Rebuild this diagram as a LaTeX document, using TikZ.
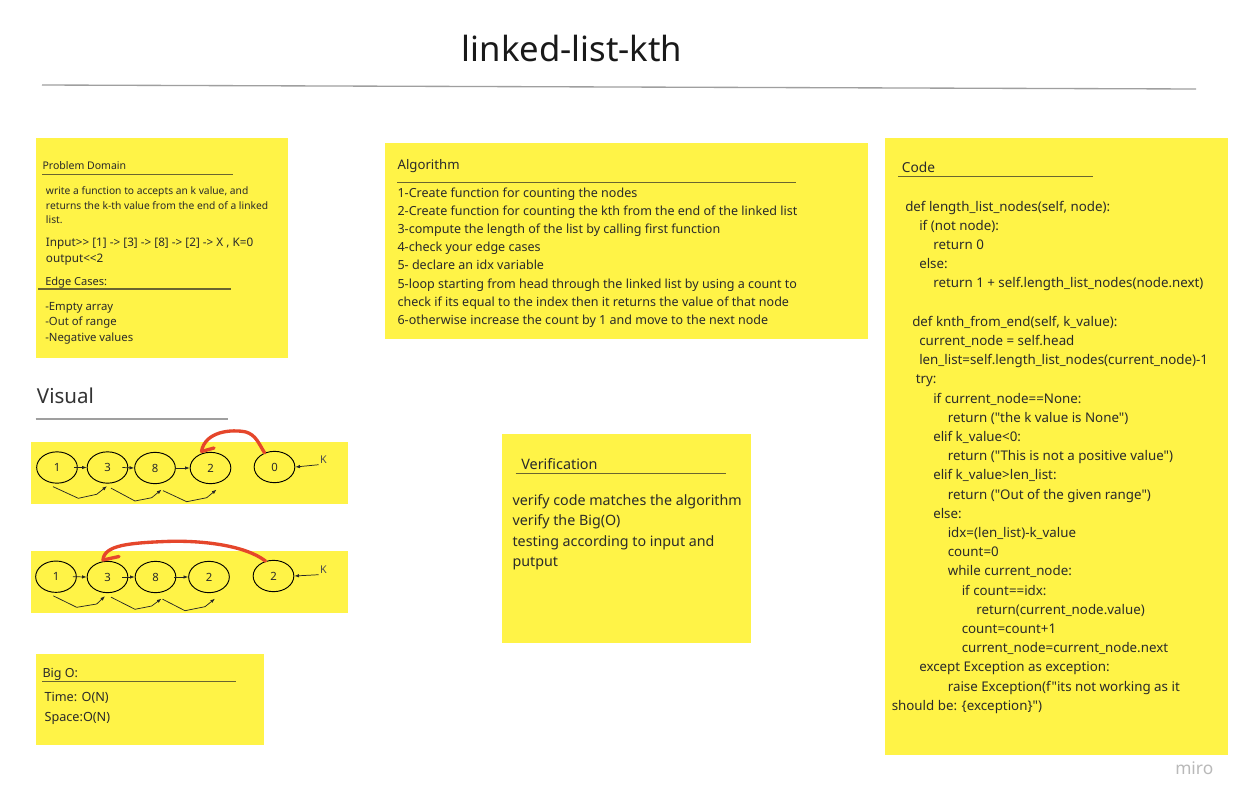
\documentclass[tikz,border=0pt]{standalone}
\usepackage{fontspec}
\setmainfont{Noto Sans}[Ligatures=TeXOff]
\usetikzlibrary{arrows.meta,calc,shapes.geometric}
\definecolor{sticky}{HTML}{FFF347}
\definecolor{ink}{HTML}{2A2A2A}
\definecolor{rulecol}{HTML}{6A6530}
\definecolor{redink}{HTML}{E5462B}
\newcommand\fsz[1]{\fontsize{#1pt}{#1pt}\selectfont}
\begin{document}
\begin{tikzpicture}[x=0.75pt,y=-0.75pt,
  txt/.style={anchor=base west, inner sep=0pt, text=ink},
  codetxt/.style={txt, font=\fsz{10}},
  algtxt/.style={txt, font=\fsz{9.4}},
  note/.style={fill=sticky},
  uline/.style={draw=rulecol, line width=0.8pt},
  lnode/.style={ellipse, draw=black, line width=0.7pt, minimum width=30.5pt, minimum height=23.5pt, inner sep=0pt, font=\fsz{8.5}, text=ink},
  ptr/.style={draw=black!85, line width=0.55pt, -{Latex[length=3.5pt,width=2.6pt]}},
  redarc/.style={draw=redink, line width=2.5pt, line cap=round, line join=round}]
\fill[white] (0,0) rectangle (1243,804);
\useasboundingbox (0,0) rectangle (1243,804);

% title
\node[anchor=base, inner sep=0pt, font=\fsz{26}, text=black!90] (title) at (572,61) {linked-list-kth};
\draw[gray!75, line width=1pt] (42,85) -- (1196,89);

% ---------- Problem Domain ----------
\path[note] (36,138.3) rectangle (288.3,357.7);
\node[txt, font=\fsz{7.9}] (pdh) at (42.3,169.7) {Problem Domain};
\draw[uline] (42.3,174.3) -- (233.3,174.3);
\node[txt, font=\fsz{7.7}] (pd1) at (45.7,194.3) {write a function to accepts an k value, and};
\node[txt, font=\fsz{7.7}] (pd2) at (45.7,209) {returns the k-th value from the end of a linked};
\node[txt, font=\fsz{7.7}] (pd3) at (45.7,223.3) {list.};
\node[txt, font=\fsz{8.8}] (pd4) at (45.7,246.7) {Input>> [1] -> [3] -> [8] -> [2] -> X , K=0};
\node[txt, font=\fsz{8.8}] (pd5) at (45.7,262.8) {output<<2};
\node[txt, font=\fsz{8.3}] (ech) at (45,285.7) {Edge Cases:};
\draw[uline] (38.3,289) -- (230.7,289);
\node[txt, font=\fsz{8.5}] (ec1) at (45,310) {-Empty array};
\node[txt, font=\fsz{8.5}] (ec2) at (45,325.5) {-Out of range};
\node[txt, font=\fsz{8.5}] (ec3) at (45,341.7) {-Negative values};

% ---------- Visual ----------
\node[txt, font=\fsz{15.4}, text=black!80] (vis) at (36.7,403.3) {Visual};
\draw[gray!75, line width=0.9pt] (35.7,419) -- (228.3,419);

% strip 1
\path[note] (31,441.7) rectangle (347.7,504);
\node[lnode] (a1) at (57,467.5) {1};
\node[lnode] (a2) at (107.5,467.5) {3};
\node[lnode] (a3) at (155,468) {8};
\node[lnode] (a4) at (210.5,468) {2};
\node[lnode] (a5) at (274.5,467) {0};
\node[inner sep=1pt, font=\fsz{8}, text=black!70] (ka) at (323.5,459.3) {K};
\draw[ptr] ($(a1.east)+(-4,0)$) -- (a2.west);
\draw[ptr] ($(a2.east)+(-6,0)$) -- (a3.west);
\draw[ptr] ($(a3.east)+(0,0)$) -- (a4.west);
\draw[ptr] (ka.south west) -- (a5.east);
\draw[ptr] ($(a1.south)+(-4,3)$) -- (78.3,498.3) -- (96.7,494.3) -- ($(a2.south)+(-0.5,2.5)$);
\draw[ptr] ($(a2.south)+(3.5,4.5)$) -- (135,501) -- (151.7,497.7) -- ($(a3.south)+(6.5,5.5)$);
\draw[ptr] ($(a3.south)+(8,6.5)$) -- (186.7,501.7) -- (206.7,497.7) -- ($(a4.south)+(6,5.5)$);
\coordinate (tipa) at (201.5,451.5);
\draw[redarc] (a5.125) .. controls (259,444) and (256,435) .. (246,432)
  .. controls (232,429) and (205,431) .. (tipa);
\draw[redarc] (tipa) -- (214,448);

% strip 2
\path[note] (31,550.7) rectangle (347.7,612.7);
\node[lnode] (b1) at (56,576.7) {1};
\node[lnode] (b2) at (107.5,577) {3};
\node[lnode] (b3) at (155.5,577) {8};
\node[lnode] (b4) at (209,577) {2};
\node[lnode] (b5) at (273.5,576) {2};
\node[inner sep=1pt, font=\fsz{8}, text=black!70] (kb) at (323.5,569.3) {K};
\draw[ptr] ($(b1.east)+(-4,0)$) -- (b2.west);
\draw[ptr] ($(b2.east)+(-6,0)$) -- (b3.west);
\draw[ptr] ($(b3.east)+(-2,0)$) -- (b4.west);
\draw[ptr] (kb.south west) -- (b5.east);
\draw[ptr] ($(b1.south)+(-2.7,3)$) -- (76.7,607.3) -- (96.7,604) -- ($(b2.south)+(-2.5,3)$);
\draw[ptr] ($(b2.south)+(3.5,4)$) -- (135,609.3) -- (151.7,606) -- ($(b3.south)+(6,5.5)$);
\draw[ptr] ($(b3.south)+(7,6)$) -- (185,610.7) -- (205,606.7) -- ($(b4.south)+(6,5.5)$);
\coordinate (tipb) at (103,560);
\draw[redarc] (b5.118) .. controls (245,545) and (200,540) .. (165,541.5)
  .. controls (130,543) and (104,545) .. (tipb);
\draw[redarc] (tipb) -- (119,556.5);

% ---------- Big O ----------
\path[note] (35.7,654) rectangle (264.3,745);
\node[txt, font=\fsz{9.4}] (boh) at (42.3,677.7) {Big O:};
\draw[uline] (42.3,681.7) -- (235.7,681.7);
\node[txt, font=\fsz{9.5}] (bo1) at (44.3,701.7) {Time: O(N)};
\node[txt, font=\fsz{9.5}] (bo2) at (44.3,721.7) {Space:O(N)};

% ---------- Algorithm ----------
\path[note] (385,142.7) rectangle (868.3,339.3);
\node[txt, font=\fsz{9.9}] (alh) at (397.3,169.3) {Algorithm};
\draw[uline] (397.3,182.7) -- (796,182.7);
\node[algtxt] (al1) at (397.3,197.5) {1-Create function for counting the nodes};
\node[algtxt] (al2) at (397.3,215.6) {2-Create function for counting the kth from the end of the linked list};
\node[algtxt] (al3) at (397.3,233.7) {3-compute the length of the list by calling first function};
\node[algtxt] (al4) at (397.3,251.8) {4-check your edge cases};
\node[algtxt] (al5) at (397.3,269.9) {5- declare an idx variable};
\node[algtxt] (al6) at (397.3,288) {5-loop starting from head through the linked list by using a count to};
\node[algtxt] (al7) at (397.3,306.1) {check if its equal to the index then it returns the value of that node};
\node[algtxt] (al8) at (397.3,324.2) {6-otherwise increase the count by 1 and move to the next node};

% ---------- Verification ----------
\path[note] (502.3,434) rectangle (751,643.3);
\node[txt, font=\fsz{10.8}] (veh) at (521,469) {Verification};
\draw[uline] (515.7,473.3) -- (725.7,473.3);
\node[txt, font=\fsz{10.7}] (ve1) at (512.3,505) {verify code matches the algorithm};
\node[txt, font=\fsz{10.7}] (ve2) at (512.3,525.5) {verify the Big(O)};
\node[txt, font=\fsz{10.7}] (ve3) at (512.3,546) {testing according to input and};
\node[txt, font=\fsz{10.7}] (ve4) at (512.3,566.5) {putput};

% ---------- Code ----------
\path[note] (885,138.3) rectangle (1228.3,755);
\node[txt, font=\fsz{10.3}] (coh) at (901.7,172.7) {Code};
\draw[uline] (898,176.7) -- (1092.7,176.7);
\node[codetxt] (c1) at (905,211) {def length\_list\_nodes(self, node):};
\node[codetxt] (c2) at (919,230.2) {if (not node):};
\node[codetxt] (c3) at (933,249.4) {return 0};
\node[codetxt] (c4) at (919,268.6) {else:};
\node[codetxt] (c5) at (933,287.8) {return 1 + self.length\_list\_nodes(node.next)};
\node[codetxt] (c6) at (912,326.2) {def knth\_from\_end(self, k\_value):};
\node[codetxt] (c7) at (919,345.4) {current\_node = self.head};
\node[codetxt] (c8) at (919,364.6) {len\_list=self.length\_list\_nodes(current\_node)-1};
\node[codetxt] (c9) at (915.5,383.8) {try:};
\node[codetxt] (c10) at (933,403) {if current\_node==None:};
\node[codetxt] (c11) at (947.5,422.2) {return ("the k value is None")};
\node[codetxt] (c12) at (933,441.4) {elif k\_value<0:};
\node[codetxt] (c13) at (947.5,460.6) {return ("This is not a positive value")};
\node[codetxt] (c14) at (933,479.8) {elif k\_value>len\_list:};
\node[codetxt] (c15) at (947.5,499) {return ("Out of the given range")};
\node[codetxt] (c16) at (933,518.2) {else:};
\node[codetxt] (c17) at (947.5,537.4) {idx=(len\_list)-k\_value};
\node[codetxt] (c18) at (947.5,556.6) {count=0};
\node[codetxt] (c19) at (947.5,575.8) {while current\_node:};
\node[codetxt] (c20) at (961.5,595) {if count==idx:};
\node[codetxt] (c21) at (976,614.2) {return(current\_node.value)};
\node[codetxt] (c22) at (961.5,633.4) {count=count+1};
\node[codetxt] (c23) at (961.5,652.6) {current\_node=current\_node.next};
\node[codetxt] (c24) at (919,671.8) {except Exception as exception:};
\node[codetxt] (c25) at (947.5,691) {raise Exception(f"its not working as it};
\node[codetxt] (c26) at (891.5,710.2) {should be: \{exception\}")};

% miro mark
\node[txt, font=\fsz{13}\bfseries, text=gray!55] (miro) at (1175,774.5) {miro};
\end{tikzpicture}
\end{document}
